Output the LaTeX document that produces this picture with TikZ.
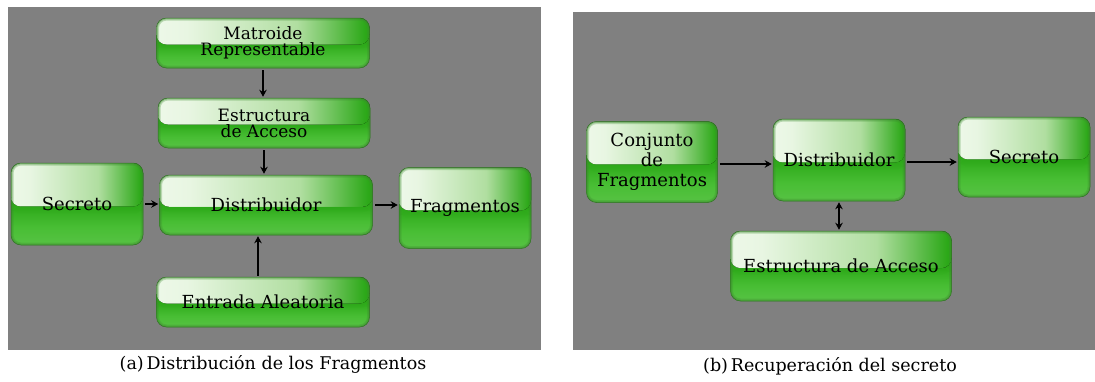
\documentclass[tikz,border=0pt]{standalone}
\usepackage{fontspec}
\setmainfont{DejaVu Serif}
\usetikzlibrary{fadings,calc,arrows.meta}
\definecolor{panelgray}{RGB}{128,128,128}
\definecolor{gA}{RGB}{232,246,226}
\definecolor{gB}{RGB}{176,222,160}
\definecolor{gC}{RGB}{44,168,24}
\definecolor{gD}{RGB}{72,190,52}
\definecolor{gE}{RGB}{108,200,90}
\definecolor{gF}{RGB}{62,140,48}
\definecolor{gDark}{RGB}{14,100,8}
\pgfdeclareverticalshading{glossy}{100bp}{color(0bp)=(gF); color(10bp)=(gE); color(36bp)=(gD); color(50bp)=(gC); color(100bp)=(gC)}
\pgfdeclarehorizontalshading{hilite}{100bp}{color(0bp)=(white); color(32bp)=(gA); color(58bp)=(gB); color(74bp)=(gC); color(92bp)=(gDark); color(100bp)=(gDark)}
\tikzfading[name=fadedown, top color=transparent!0, bottom color=transparent!100]
\begin{document}
\begin{tikzpicture}[x=1pt,y=-1pt,
  gbox/.style={rounded corners=10pt, inner sep=0pt, align=center,
    shading=glossy, draw=gF!80!black, line width=0.5pt,
    font=\fontsize{18}{16}\selectfont,
    path picture={
      \coordinate (ppmid) at ($(path picture bounding box.south west)!0.47!(path picture bounding box.north west)$);
      \coordinate (pplow) at ($(path picture bounding box.south west)!0.38!(path picture bounding box.north west)$);
      \fill[shading=hilite] (ppmid) rectangle (path picture bounding box.north east);
      \fill[gC, path fading=fadedown, fill opacity=0.5] (ppmid) rectangle (pplow -| path picture bounding box.east);
      \draw[gF, line width=5pt, opacity=0.3, rounded corners=10pt]
        (path picture bounding box.south west) rectangle (path picture bounding box.north east);
      \draw[gF, line width=2.5pt, opacity=0.4, rounded corners=10pt]
        (path picture bounding box.south west) rectangle (path picture bounding box.north east);
    }},
  arr/.style={-{Stealth[length=7pt,width=7.5pt]}, line width=2.6pt, black},
  darr/.style={{Stealth[length=7pt,width=7.5pt]}-{Stealth[length=7pt,width=7.5pt]}, line width=2.6pt, black},
  captext/.style={font=\fontsize{17.5}{19}\selectfont, inner sep=0pt}]
\useasboundingbox (0,0) rectangle (1095,381);
\fill[white] (0,0) rectangle (1095,381);
% panels
\fill[panelgray] (8,7) rectangle (541,350);
\fill[panelgray] (573,12) rectangle (1095,350);
% left panel
\node[gbox, minimum width=213pt, minimum height=50pt, font=\fontsize{17}{16}\selectfont] (mat) at (263,43) {Matroide\\Representable};
\node[gbox, minimum width=212pt, minimum height=50pt, font=\fontsize{17}{16}\selectfont] (est) at (264,123) {Estructura\\de Acceso};
\node[gbox, minimum width=132pt, minimum height=82pt] (sec) at (77,204) {Secreto};
\node[gbox, minimum width=213pt, minimum height=60pt] (dis) at (266,205) {Distribuidor};
\node[gbox, minimum width=132pt, minimum height=81pt] (fra) at (465,208) {Fragmentos};
\node[gbox, minimum width=213pt, minimum height=50pt] (ent) at (263,302) {Entrada Aleatoria};
\draw[arr, shorten <=2pt, shorten >=1pt] (mat.south) -- (mat.south |- est.north);
\draw[arr, shorten <=2pt, shorten >=1pt] (est.south) -- (est.south |- dis.north);
\draw[arr, shorten <=2pt, shorten >=1pt] (sec.east) -- (sec.east -| dis.west);
\draw[arr, shorten <=2pt, shorten >=1pt] (dis.east) -- (dis.east -| fra.west);
\draw[arr, shorten <=1pt, shorten >=1pt] (ent.north -| 258,0) -- (258,0 |- dis.south);
\node[captext] (capa) at (273,364) {(a)\,Distribución de los Fragmentos};
% right panel
\node[gbox, minimum width=131pt, minimum height=81pt, font=\fontsize{18}{20}\selectfont] (con) at (652,162) {Conjunto\\de\\Fragmentos};
\node[gbox, minimum width=132pt, minimum height=82pt] (dis2) at (839,160) {Distribuidor};
\node[gbox, minimum width=132pt, minimum height=80pt] (sec2) at (1024,157) {Secreto};
\node[gbox, minimum width=221pt, minimum height=70pt] (est2) at (841,266) {Estructura de Acceso};
\coordinate (c1) at (con.east |- 0,164);
\draw[arr, shorten <=2pt, shorten >=1pt] (c1) -- (c1 -| dis2.west);
\coordinate (c2) at (dis2.east |- 0,162);
\draw[arr, shorten <=2pt, shorten >=1pt] (c2) -- (c2 -| sec2.west);
\draw[darr, shorten <=1pt, shorten >=1pt] (dis2.south) -- (dis2.south |- est2.north);
\node[captext] (capb) at (830,366) {(b)\,Recuperación del secreto};
\end{tikzpicture}
\end{document}
